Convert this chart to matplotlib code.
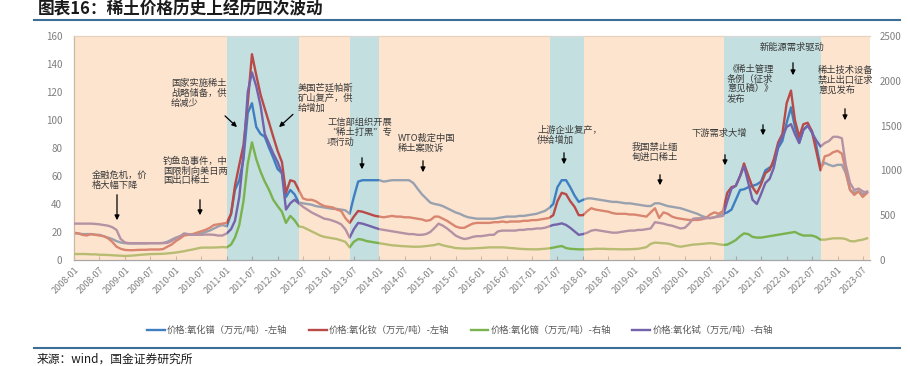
import matplotlib
matplotlib.use('Agg')
import matplotlib.pyplot as plt
import matplotlib.dates as mdates
from matplotlib.lines import Line2D
from matplotlib.patches import FancyArrowPatch
import pandas as pd

plt.rcParams['font.family'] = ['Noto Sans CJK SC', 'DejaVu Sans']

# ---------------- data (monthly, from 2008-01) ----------------
start_month = '2008-01-01'
# 价格:氧化镨 (万元/吨) - left axis
pr = [19, 19, 18.5, 18.5, 18.5, 18, 18, 17, 16, 15, 13.5, 12.5,
      12, 11.8, 11.8, 11.8, 11.8, 11.8, 12, 12, 12, 12.2, 13, 14.5,
      16, 17, 18, 18, 18, 18.5, 19, 20, 21, 22.5, 24, 25,
      24, 33, 50, 57, 72, 105, 112, 95, 90, 88, 80, 73,
      65, 62, 45, 50, 47, 41, 40.5, 40, 39.5, 38.5, 38, 37.5,
      37, 36.5, 36.5, 36, 35.5, 33, 45, 56, 57, 57, 57, 57,
      57, 56, 56.5, 57, 57, 57, 57, 57, 55, 51, 47, 44,
      41, 40, 39.5, 38.5, 37, 35.5, 34, 33, 31.5, 30.5, 30, 29.5,
      29.5, 29.5, 29.5, 29.5, 30, 30.5, 31, 31, 31, 31.5, 31.5, 32,
      32.5, 33, 34, 35, 37, 40, 52, 57, 57, 52, 46, 41.5,
      43, 44, 44, 43.5, 43, 42.5, 42, 41.5, 41.5, 41, 40.5, 40.5,
      40, 39.5, 39, 38.6, 38.5, 40.5, 40.5, 39.5, 38.5, 38, 37.5, 37,
      36, 35, 34, 33, 31.5, 30.5, 29.8, 30.5, 32, 33, 34, 36,
      43, 50, 50.5, 52, 53, 54, 56, 64, 66, 68, 80, 85,
      98, 109, 95, 84, 93, 96, 92, 82, 66, 69.5, 68, 67,
      68, 68, 62, 50, 48, 49, 47, 49]
# 价格:氧化钕 (万元/吨) - left axis
nd = [19.5, 19, 18, 17.5, 18.5, 18, 17.5, 17, 15.5, 13, 9.5, 8,
      7.2, 7.0, 7.0, 7.2, 7.3, 7.3, 7.5, 7.5, 7.5, 7.8, 9.5, 11,
      13.5, 15.5, 17.5, 18, 18.5, 19.5, 20.5, 21.5, 23, 25, 25.5, 26,
      26.5, 33, 53, 68, 82, 112, 147, 132, 118, 108, 98, 88,
      78, 70, 48, 57, 56, 50, 44, 43, 43, 42, 40, 38.5,
      38, 37.5, 36, 35, 30, 26.5, 31, 35, 34.5, 33.5, 32.5, 31.5,
      31, 30.5, 31, 31.5, 31, 31, 30.5, 30.5, 30, 29.5, 29, 28,
      28.5, 31, 31, 29.5, 28, 26, 24, 23, 23, 24.5, 26, 26.5,
      26.5, 26.5, 26.5, 27, 27, 27.5, 27, 27.5, 27.5, 27.5, 28, 28,
      28.5, 28.5, 29, 29.5, 30, 32, 42, 48, 47, 42, 38, 32,
      32, 35, 37, 36, 35.5, 35, 34.5, 33.5, 33, 33, 33, 32.5,
      32.5, 32, 31.5, 31, 34, 37, 30, 34, 33, 31, 30, 29.5,
      29, 28.6, 28.6, 28.6, 29, 30, 32.5, 34, 33, 35, 48, 52,
      53, 60, 69, 60, 52, 47.5, 54, 62, 64.3, 72, 84, 90,
      112, 121, 100, 88, 97, 98, 92, 78, 64, 74, 75, 77,
      78, 76, 64, 50, 46.5, 49, 45, 48]
# 价格:氧化镝 (万元/吨) - right axis
dy = [66, 67, 67, 66, 63, 63, 59, 58, 56, 53, 50, 47,
      45, 47, 50, 55, 59, 63, 66, 67, 67, 69, 73, 78,
      83, 91, 98, 109, 117, 128, 138, 138, 138, 139, 141, 144,
      141, 172, 250, 391, 656, 1078, 1313, 1125, 984, 875, 781, 672,
      602, 539, 414, 492, 445, 375, 367, 344, 320, 297, 273, 258,
      250, 242, 234, 219, 203, 141, 203, 234, 227, 211, 203, 195,
      188, 180, 172, 164, 161, 156, 153, 150, 148, 148, 150, 156,
      161, 167, 180, 164, 153, 144, 133, 130, 128, 128, 130, 133,
      134, 138, 141, 141, 141, 141, 138, 133, 130, 125, 122, 120,
      119, 119, 122, 125, 130, 138, 148, 156, 133, 125, 122, 119,
      119, 119, 122, 125, 125, 125, 122, 122, 120, 119, 119, 120,
      122, 125, 133, 144, 180, 194, 191, 188, 184, 172, 156, 148,
      156, 164, 172, 175, 180, 184, 188, 184, 175, 169, 172, 195,
      223, 266, 297, 289, 258, 250, 250, 258, 266, 273, 281, 289,
      297, 305, 313, 289, 273, 273, 273, 258, 227, 227, 234, 242,
      242, 242, 234, 211, 208, 219, 227, 242]
# 价格:氧化铽 (万元/吨) - right axis
tb = [406, 406, 406, 406, 406, 403, 398, 391, 383, 367, 336, 234,
      195, 188, 188, 188, 188, 188, 188, 188, 188, 188, 191, 211,
      242, 266, 297, 289, 281, 281, 281, 284, 284, 281, 273, 273,
      297, 344, 438, 703, 1172, 1875, 2094, 1938, 1719, 1406, 1297, 1188,
      1094, 969, 563, 633, 672, 633, 594, 563, 531, 508, 484, 461,
      453, 438, 422, 398, 344, 250, 344, 414, 406, 391, 375, 359,
      344, 336, 328, 320, 313, 305, 297, 289, 289, 281, 281, 289,
      313, 359, 406, 383, 352, 313, 273, 250, 234, 242, 258, 266,
      266, 273, 281, 281, 320, 328, 328, 328, 328, 336, 336, 344,
      344, 352, 352, 359, 375, 391, 398, 409, 391, 359, 320, 281,
      289, 305, 328, 336, 328, 320, 313, 305, 305, 313, 320, 328,
      328, 336, 336, 344, 352, 422, 414, 406, 391, 383, 367, 352,
      359, 406, 461, 466, 466, 466, 469, 477, 484, 492, 656, 797,
      828, 938, 1047, 859, 672, 625, 734, 859, 906, 1031, 1281, 1375,
      1484, 1516, 1406, 1305, 1453, 1500, 1422, 1336, 1266, 1305, 1328, 1375,
      1375, 1359, 1063, 859, 781, 797, 766, 750]

series_labels = ['价格:氧化镨（万元/吨）-左轴', '价格:氧化钕（万元/吨）-左轴',
                 '价格:氧化镝（万元/吨）-右轴', '价格:氧化铽（万元/吨）-右轴']

# periods of sharp price moves (teal shading)
teal_start = ['2011-01-01', '2013-06-01', '2017-05-10', '2020-10-05']
teal_end = ['2012-06-01', '2014-01-01', '2018-01-10', '2022-09-01']
x_end = '2023-08-22'

annotations = [
    ('金融危机，价\n格大幅下降', 92, 171, 117, 192, 117, 223),
    ('钓鱼岛事件，中\n国限制向美日两\n国出口稀土', 163, 156.5, 200, 197, 200, 218),
    ('国家实施稀土\n战略储备，供\n给减少', 171, 79, 223, 114, 239, 129),
    ('美国芒廷帕斯\n矿山复产，供\n给增加', 298, 83, 295, 112.5, 277, 129),
    ('工信部组织开展\n“稀土打黑”专\n项行动', 327, 118, 362, 155, 362, 172),
    ('WTO裁定中国\n稀土案败诉', 398, 134, 423, 158, 423, 175),
    ('上游企业复产，\n供给增加', 537, 126, 564, 150, 564, 167),
    ('我国禁止缅\n甸进口稀土', 632, 143, 660, 172, 660, 188),
    ('下游需求大增', 692, 129, 725, 152, 725, 168),
    ('《稀土管理\n条例（征求\n意见稿）》\n发布', 727, 65, 763, 122, 763, 138),
    ('新能源需求驱动', 760, 42.5, 793, 60, 793, 78),
    ('稀土技术设备\n禁止出口征求\n意见发布', 818, 66, 845, 106, 845, 123),
]

# ---------------- figure ----------------
W, H = 910, 366
fig = plt.figure(figsize=(W / 100, H / 100), dpi=100)


def fx(x):
    return x / W


def fy(y):
    return 1 - y / H


ax = fig.add_axes([fx(74), fy(260), (870 - 74) / W, (260 - 36) / H])
ax2 = ax.twinx()

dates = pd.date_range(start_month, periods=len(pr), freq='MS')
x0 = pd.Timestamp(start_month)
x1 = pd.Timestamp(x_end)

c_blue, c_red, c_green, c_purple = '#3f7fc1', '#b94a48', '#7ab24e', '#7462aa'

# teal background periods
for s, e in zip(teal_start, teal_end):
    ax.axvspan(pd.Timestamp(s), pd.Timestamp(e), color='#c3dfe0', lw=0, zorder=0)

l1, = ax.plot(dates, pr, color=c_blue, lw=1.7, zorder=2, label=series_labels[0])
l2, = ax.plot(dates, nd, color=c_red, lw=1.7, zorder=2, label=series_labels[1])
l3, = ax2.plot(dates, dy, color=c_green, lw=1.7, zorder=2, label=series_labels[2])
l4, = ax2.plot(dates, tb, color=c_purple, lw=1.7, zorder=2, label=series_labels[3])

# orange translucent overlay on the remaining periods
bounds = [x0] + [v for s, e in zip(teal_start, teal_end)
                 for v in (pd.Timestamp(s), pd.Timestamp(e))] + [x1]
for i in range(0, len(bounds), 2):
    ax2.axvspan(bounds[i], bounds[i + 1], color='#fcc89c', alpha=0.48, lw=0, zorder=5)

ax.set_xlim(x0, x1)
ax.set_ylim(0, 160)
ax.set_yticks(range(0, 161, 20))
ax2.set_ylim(0, 2500)
ax2.set_yticks(range(0, 2501, 500))

ax.xaxis.set_major_locator(mdates.MonthLocator(bymonth=[1, 7]))
ax.xaxis.set_major_formatter(mdates.DateFormatter('%Y-%m'))
ax.tick_params(axis='x', direction='in', length=3, color='#a6a6a6',
               labelsize=6.5, labelcolor='#7f7f7f', pad=4)
for lbl in ax.get_xticklabels():
    lbl.set_rotation(45)
    lbl.set_ha('right')
    lbl.set_va('top')
    lbl.set_rotation_mode('anchor')
ax.tick_params(axis='y', length=0, pad=8.5, labelsize=7, labelcolor='#7f7f7f')
ax2.tick_params(axis='y', length=0, pad=7, labelsize=7, labelcolor='#7f7f7f')

for sp in ax2.spines.values():
    sp.set_visible(False)
ax.spines['right'].set_visible(False)
ax.spines['left'].set_color('#a6a6a6')
ax.spines['bottom'].set_color('#a6a6a6')
ax.spines['top'].set_color('#d9d9d9')
for sp in ('left', 'bottom', 'top'):
    ax.spines[sp].set_linewidth(0.9)
    ax.spines[sp].set_zorder(6)

# annotations
for txt, tx, ty, ax0, ay0, ax1, ay1 in annotations:
    fig.text(fx(tx), fy(ty), txt, fontsize=6.7, color='#3a3a3a', ha='left',
             va='top', linespacing=1.12, zorder=10)
    arr = FancyArrowPatch((fx(ax0), fy(ay0)), (fx(ax1), fy(ay1)),
                          transform=fig.transFigure, arrowstyle='-|>',
                          mutation_scale=7, color='black', lw=0.9, zorder=10)
    fig.add_artist(arr)

# legend
fig.legend(handles=[l1, l2, l3, l4], loc='center',
           bbox_to_anchor=(fx(460), fy(330)), ncol=4, frameon=False,
           fontsize=6.7, labelcolor='#595959', handlelength=1.9,
           handletextpad=0.25, columnspacing=2.3, borderpad=0)

# title, rules and source
fig.text(fx(38), fy(9), '图表16：稀土价格历史上经历四次波动', fontsize=12,
         fontweight='bold', fontstyle='italic', color='#1a1a1a', ha='left', va='center')
fig.add_artist(Line2D([fx(34), fx(900)], [fy(19.5), fy(19.5)], color='#3d6e96', lw=1.5))
fig.add_artist(Line2D([fx(34), fx(900)], [fy(348), fy(348)], color='#3d6e96', lw=1.5))
fig.text(fx(37), fy(359), '来源：wind，国金证券研究所', fontsize=8.5,
         color='#1a1a1a', ha='left', va='center')

fig.savefig('out.png', dpi=100)
